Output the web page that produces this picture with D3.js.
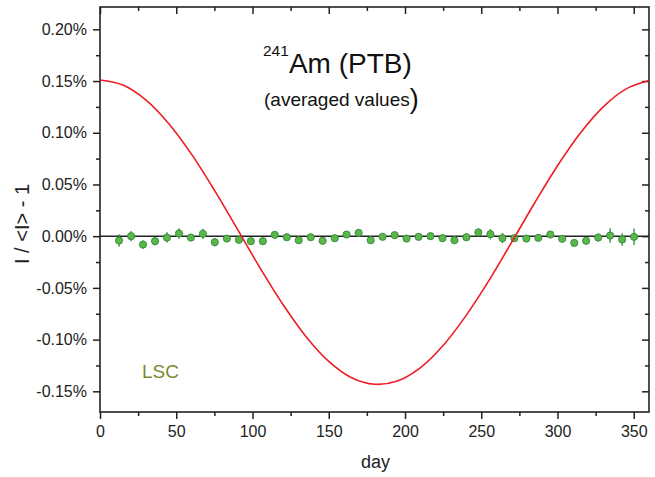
<!DOCTYPE html>
<html>
<head>
<meta charset="utf-8">
<script src="https://cdn.jsdelivr.net/npm/d3@7"></script>
<style>
  html, body { margin: 0; padding: 0; background: #fff; }
  svg { display: block; font-family: "Liberation Sans", Arial, Helvetica, sans-serif; }
</style>
</head>
<body>
<svg id="chart" width="655" height="477"></svg>
<script>
// ---- data (values in percent) ----
const pointDays = [12.5, 20.4, 28.2, 36.1, 43.9, 51.8, 59.6, 67.5, 75.3, 83.2, 91.1,
  98.9, 106.8, 114.6, 122.5, 130.3, 138.2, 146.0, 153.9, 161.7, 169.6, 177.5,
  185.3, 193.2, 201.0, 208.9, 216.7, 224.6, 232.4, 240.3, 248.1, 256.0, 263.9,
  271.7, 279.6, 287.4, 295.3, 303.1, 311.0, 318.8, 326.7, 334.5, 342.4, 350.2];
const pointValues = [-0.0042, 0.0000, -0.0081, -0.0048, -0.0013, 0.0026, -0.0013, 0.0023, -0.0058, -0.0023, -0.0035,
  -0.0048, -0.0048, 0.0013, -0.0010, -0.0039, -0.0010, -0.0045, -0.0019, 0.0016, 0.0032, -0.0039,
  -0.0006, 0.0010, -0.0023, -0.0006, 0.0000, -0.0019, -0.0039, -0.0010, 0.0036, 0.0019, -0.0019,
  -0.0019, -0.0023, -0.0016, 0.0016, -0.0026, -0.0065, -0.0045, -0.0013, 0.0006, -0.0032, -0.0006];
const pointErrors = [0.006, 0.005, 0.004, 0.004, 0.005, 0.005, 0.003, 0.005, 0.004, 0.003, 0.003,
  0.003, 0.003, 0.003, 0.003, 0.003, 0.003, 0.003, 0.003, 0.003, 0.003, 0.003,
  0.003, 0.003, 0.003, 0.003, 0.003, 0.003, 0.003, 0.003, 0.004, 0.005, 0.005,
  0.003, 0.003, 0.003, 0.003, 0.003, 0.003, 0.003, 0.004, 0.007, 0.006, 0.008];

const curveDays = [0, 15, 30, 45, 60, 75, 90, 105, 120, 135, 150, 165, 180, 195, 210, 225,
  240, 255, 270, 285, 300, 315, 330, 345, 360];
const curveValues = [0.1510, 0.1461, 0.1318, 0.1090, 0.0793, 0.0445, 0.0070, -0.0308, -0.0661,
  -0.0969, -0.1211, -0.1369, -0.1432, -0.1400, -0.1273, -0.1057, -0.0768, -0.0430, -0.0057,
  0.0321, 0.0681, 0.0998, 0.1251, 0.1424, 0.1505];

const xTicks = [0, 50, 100, 150, 200, 250, 300, 350];
const xTickLabels = ["0", "50", "100", "150", "200", "250", "300", "350"];
const xMinorTicks = [25, 75, 125, 175, 225, 275, 325];
const yTicks = [-0.15, -0.10, -0.05, 0.00, 0.05, 0.10, 0.15, 0.20];
const yTickLabels = ["-0.15%", "-0.10%", "-0.05%", "0.00%", "0.05%", "0.10%", "0.15%", "0.20%"];
const yMinorTicks = [-0.125, -0.075, -0.025, 0.025, 0.075, 0.125, 0.175];

// ---- layout ----
const L = 100, R = 649, T = 7, B = 412;
const ink = "#222";
const svg = d3.select("#chart");
const x = d3.scaleLinear().domain([0, 360]).range([L, R]);
const y = d3.scaleLinear().domain([-0.17, 0.2216]).range([B, T]);

function styleAxis(g) {
  g.select(".domain").remove();
  g.selectAll("line").attr("stroke", ink).attr("stroke-width", 1.5);
  g.selectAll("text").attr("fill", ink).style("font-size", "16px")
    .style("font-family", "'Liberation Sans', Arial, sans-serif");
}

// bottom
svg.append("g").attr("transform", `translate(0,${B})`)
  .call(d3.axisBottom(x).tickValues(xTicks).tickSize(7).tickPadding(7)
    .tickFormat((d, i) => xTickLabels[i])).call(styleAxis);
svg.append("g").attr("transform", `translate(0,${B})`)
  .call(d3.axisBottom(x).tickValues(xMinorTicks).tickSize(4).tickFormat("")).call(styleAxis);
// top (inward)
svg.append("g").attr("transform", `translate(0,${T})`)
  .call(d3.axisTop(x).tickValues(xTicks).tickSize(-7).tickFormat("")).call(styleAxis);
svg.append("g").attr("transform", `translate(0,${T})`)
  .call(d3.axisTop(x).tickValues(xMinorTicks).tickSize(-4).tickFormat("")).call(styleAxis);
// left
svg.append("g").attr("transform", `translate(${L},0)`)
  .call(d3.axisLeft(y).tickValues(yTicks).tickSize(7).tickPadding(6)
    .tickFormat((d, i) => yTickLabels[i])).call(styleAxis);
svg.append("g").attr("transform", `translate(${L},0)`)
  .call(d3.axisLeft(y).tickValues(yMinorTicks).tickSize(4).tickFormat("")).call(styleAxis);
// right (inward)
svg.append("g").attr("transform", `translate(${R},0)`)
  .call(d3.axisRight(y).tickValues(yTicks).tickSize(-7).tickFormat("")).call(styleAxis);
svg.append("g").attr("transform", `translate(${R},0)`)
  .call(d3.axisRight(y).tickValues(yMinorTicks).tickSize(-4).tickFormat("")).call(styleAxis);

// frame
svg.append("rect").attr("x", L).attr("y", T).attr("width", R - L).attr("height", B - T)
  .attr("fill", "none").attr("stroke", ink).attr("stroke-width", 1.6);

// zero line
svg.append("line").attr("x1", L).attr("x2", R).attr("y1", y(0)).attr("y2", y(0))
  .attr("stroke", ink).attr("stroke-width", 1.6);

// error bars + points
const pts = pointDays.map((d, i) => ({ d, v: pointValues[i], e: pointErrors[i] }));
svg.append("g").selectAll("line").data(pts).join("line")
  .attr("x1", p => x(p.d)).attr("x2", p => x(p.d))
  .attr("y1", p => y(p.v - p.e)).attr("y2", p => y(p.v + p.e))
  .attr("stroke", "#2f8a3a").attr("stroke-width", 1.3);
svg.append("g").selectAll("circle").data(pts).join("circle")
  .attr("cx", p => x(p.d)).attr("cy", p => y(p.v)).attr("r", 3.6)
  .attr("fill", "#5cb64a").attr("stroke", "#2f8a3a").attr("stroke-width", 0.9);

// red curve
const line = d3.line().x(d => x(d[0])).y(d => y(d[1])).curve(d3.curveCatmullRom);
svg.append("path").datum(curveDays.map((d, i) => [d, curveValues[i]]))
  .attr("d", line).attr("fill", "none").attr("stroke", "#ee1c24").attr("stroke-width", 1.6);

// axis titles
svg.append("text").attr("x", (L + R) / 2 + 1).attr("y", 468).attr("text-anchor", "middle")
  .attr("fill", ink).style("font-size", "18px").text("day");
svg.append("text").attr("transform", "translate(29,224) rotate(-90)").attr("text-anchor", "middle")
  .attr("fill", ink).style("font-size", "20px").text("I / <I> - 1");

// title
const t1 = svg.append("text").attr("x", 263).attr("y", 73).attr("fill", "#111");
t1.append("tspan").style("font-size", "15.5px").attr("dy", -17).text("241");
t1.append("tspan").style("font-size", "28px").attr("dy", 17).text("Am (PTB)");
const t2 = svg.append("text").attr("x", 264).attr("y", 106).attr("fill", "#111");
t2.append("tspan").style("font-size", "19px").text("(averaged values");
t2.append("tspan").style("font-size", "27px").attr("dy", 2).text(")");

// LSC label
svg.append("text").attr("x", 142).attr("y", 378).attr("fill", "#7d8a2e")
  .style("font-size", "19px").text("LSC");
</script>
</body>
</html>
